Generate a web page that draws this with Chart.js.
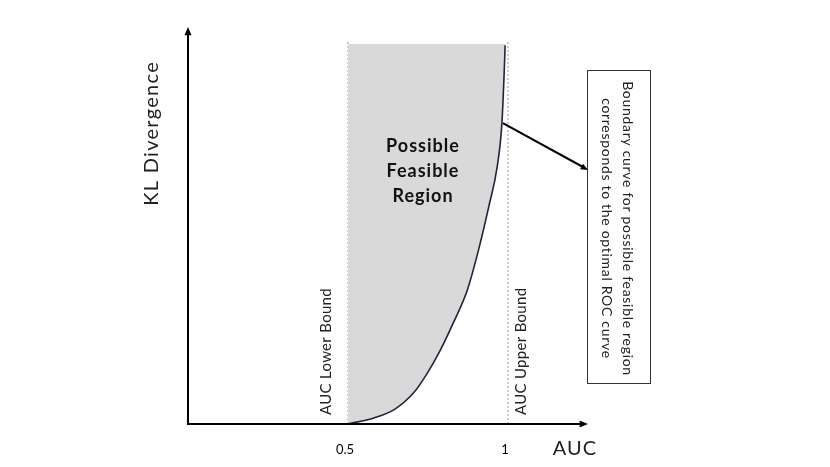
<!DOCTYPE html>
<html>
<head>
<meta charset="utf-8">
<script src="https://cdn.jsdelivr.net/npm/chart.js@4"></script>
<style>
  html, body { margin: 0; padding: 0; background: #fff; }
  #wrap { width: 830px; height: 467px; }
</style>
</head>
<body>
<div id="wrap"><canvas id="chart"></canvas></div>
<script>
// boundary curve (AUC vs KL divergence, arbitrary units)
const aucValues = [0.5, 0.581, 0.643, 0.705, 0.748, 0.789, 0.829, 0.873, 0.907, 0.941, 0.966, 0.981, 0.988, 0.991];
const klValues = [0, 0.016, 0.037, 0.082, 0.134, 0.195, 0.266, 0.353, 0.455, 0.576, 0.676, 0.792, 0.924, 0.997];
const boundValues = [0.5, 1];
const boundLabels = ["AUC Lower Bound", "AUC Upper Bound"];
const tickValues = [0.5, 1];
const tickLabels = ["0.5", "1"];
const regionTop = 1;
const regionLabel = ["Possible", "Feasible", "Region"];
const noteLines = ["Boundary curve for possible feasible region", "corresponds to the optimal ROC curve"];
const noteIndex = 11; // curve point the arrow leaves from

const FONT = "Lato, 'Open Sans', sans-serif";
Chart.defaults.font.family = FONT;

const curve = aucValues.map((x, i) => ({ x, y: klValues[i] }));

function arrowHead(ctx, x0, y0, x1, y1, size) {
  const a = Math.atan2(y1 - y0, x1 - x0);
  ctx.beginPath();
  ctx.moveTo(x1, y1);
  ctx.lineTo(x1 - size * Math.cos(a - 0.4), y1 - size * Math.sin(a - 0.4));
  ctx.lineTo(x1 - size * Math.cos(a + 0.4), y1 - size * Math.sin(a + 0.4));
  ctx.closePath();
  ctx.fill();
}

const decor = {
  id: "decor",
  afterDatasetsDraw(chart) {
    const { ctx, scales: { x, y } } = chart;
    const x0 = x.getPixelForValue(x.min), y0 = y.getPixelForValue(0);
    const xEnd = x.getPixelForValue(x.max), yEnd = y.getPixelForValue(y.max);
    ctx.save();

    // axes with arrows
    ctx.strokeStyle = "#000";
    ctx.fillStyle = "#000";
    ctx.lineWidth = 2;
    ctx.beginPath();
    ctx.moveTo(x0, yEnd + 6);
    ctx.lineTo(x0, y0);
    ctx.lineTo(xEnd - 6, y0);
    ctx.stroke();
    arrowHead(ctx, x0, y0, x0, yEnd, 9);
    arrowHead(ctx, x0, y0, xEnd, y0, 9);

    // tick labels
    ctx.font = "13px " + FONT;
    ctx.textAlign = "center";
    ctx.textBaseline = "middle";
    tickValues.forEach((v, i) => {
      ctx.fillText(tickLabels[i], x.getPixelForValue(v) - 3, y0 + 26);
    });

    // axis titles
    ctx.font = "20px " + FONT;
    ctx.fillStyle = "#222";
    ctx.letterSpacing = "1px";
    ctx.fillText("AUC", xEnd - 13, y0 + 25);
    ctx.letterSpacing = "1.3px";
    ctx.save();
    ctx.translate(x0 - 36, y.getPixelForValue(0.765));
    ctx.rotate(-Math.PI / 2);
    ctx.fillText("KL Divergence", 0, 0);
    ctx.restore();

    // bound labels
    ctx.font = "15px " + FONT;
    ctx.letterSpacing = "0.3px";
    ctx.textAlign = "left";
    boundValues.forEach((v, i) => {
      const px = x.getPixelForValue(v) + (i === 0 ? -22 : 13);
      ctx.save();
      ctx.translate(px, y0 - 9);
      ctx.rotate(-Math.PI / 2);
      ctx.fillText(boundLabels[i], 0, 0);
      ctx.restore();
    });

    // region label
    ctx.font = "bold 18px " + FONT;
    ctx.letterSpacing = "1px";
    ctx.fillStyle = "#111";
    ctx.textAlign = "center";
    regionLabel.forEach((t, i) => {
      ctx.fillText(t, 423, 146 + i * 25);
    });

    // note box + arrow
    const box = { left: 587, top: 70, w: 63, h: 313 };
    ctx.lineWidth = 1;
    ctx.strokeStyle = "#333";
    ctx.strokeRect(box.left + 0.5, box.top + 0.5, box.w, box.h);
    ctx.font = "14px " + FONT;
    ctx.letterSpacing = "0.7px";
    ctx.fillStyle = "#222";
    noteLines.forEach((t, i) => {
      ctx.save();
      ctx.translate(box.left + 41 - i * 21, box.top + box.h / 2 + 2);
      ctx.rotate(Math.PI / 2);
      ctx.fillText(t, 0, 0);
      ctx.restore();
    });
    ctx.letterSpacing = "0px";
    const sx = x.getPixelForValue(aucValues[noteIndex]) + 1;
    const sy = y.getPixelForValue(klValues[noteIndex]);
    const ex = box.left + 1, ey = 170;
    ctx.strokeStyle = "#000";
    ctx.fillStyle = "#000";
    ctx.lineWidth = 2;
    ctx.beginPath();
    ctx.moveTo(sx, sy);
    ctx.lineTo(ex - 5, ey - 3);
    ctx.stroke();
    arrowHead(ctx, sx, sy, ex, ey, 8);

    ctx.restore();
  }
};

new Chart(document.getElementById("chart"), {
  type: "line",
  data: {
    datasets: [
      {
        data: curve,
        borderColor: "#1c2638",
        borderWidth: 1.6,
        backgroundColor: "#d9d9d9",
        fill: { value: regionTop },
        pointRadius: 0,
        cubicInterpolationMode: "monotone",
      },
      ...boundValues.map((v) => ({
        data: [{ x: v, y: 0 }, { x: v, y: regionTop + 0.01 }],
        borderColor: "#9a9a9a",
        borderWidth: 1,
        borderDash: [2, 2],
        pointRadius: 0,
        fill: false,
      })),
    ],
  },
  options: {
    responsive: true,
    maintainAspectRatio: false,
    animation: false,
    layout: { padding: { left: 188, right: 242, top: 27, bottom: 43 } },
    plugins: { legend: { display: false }, tooltip: { enabled: false } },
    scales: {
      x: { type: "linear", min: 0, max: 1.25, display: false },
      y: { type: "linear", min: 0, max: 1.045, display: false },
    },
  },
  plugins: [decor],
});
</script>
</body>
</html>
